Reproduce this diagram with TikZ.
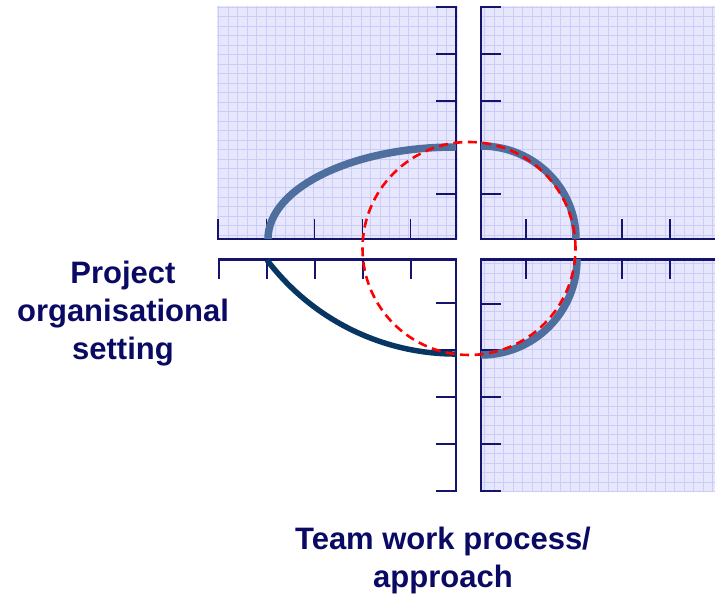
\documentclass[tikz,border=0pt]{standalone}
\usepackage{fontspec}
\setmainfont{Liberation Sans}
\definecolor{navy}{RGB}{20,20,108}
\definecolor{txt}{RGB}{10,10,100}
\definecolor{gridbg}{RGB}{230,230,253}
\definecolor{gridln}{RGB}{204,204,246}
\definecolor{curveblue}{RGB}{78,110,158}
\definecolor{darkcurve}{RGB}{8,54,98}
\begin{document}
\begin{tikzpicture}[x=1pt,y=1pt,
  gridlines/.style={draw=gridln,line width=0.6pt},
  axis/.style={draw=navy,line width=2.2pt},
  tick/.style={draw=navy,line width=1.9pt},
  bluecurve/.style={draw=curveblue,line width=7.5pt},
  navycurve/.style={draw=darkcurve,line width=5.5pt},
  reddash/.style={draw=red,line width=2.6pt,dash pattern=on 9pt off 5.5pt},
  lbl/.style={text=txt,font=\fontsize{31}{38}\selectfont\bfseries,anchor=base,inner sep=0pt}]
\useasboundingbox (0,0) rectangle (715,596);
% graph paper
\fill[gridbg] (217,357) rectangle (458,590);
\fill[gridbg] (480,357) rectangle (715,590);
\fill[gridbg] (480,104) rectangle (715,337);
\begin{scope}
\clip (217,357) rectangle (458,590);
\draw[gridlines,step=9.5] (217,357) grid (458,590);
\end{scope}
\begin{scope}
\clip (480,357) rectangle (715,590);
\draw[gridlines,step=9.5] (480,357) grid (715,590);
\end{scope}
\begin{scope}
\clip (480,104) rectangle (715,337);
\draw[gridlines,step=9.5] (480,104) grid (715,337);
\end{scope}
% top-left axes
\draw[axis] (436,589) -- (456,589) -- (456,357) -- (218,357) -- (218,377);
\foreach \y in {542,495,449,402} \draw[tick] (436,\y) -- (456,\y);
\foreach \x in {266.5,314.5,362.5,410.5} \draw[tick] (\x,357) -- (\x,377);
% top-right axes
\draw[axis] (501,589) -- (481,589) -- (481,357) -- (715,357);
\foreach \y in {542,495,449,402} \draw[tick] (481,\y) -- (501,\y);
\foreach \x in {526,574,622,670} \draw[tick] (\x,357) -- (\x,377);
% bottom-right axes
\draw[axis] (715,336.5) -- (481,336.5) -- (481,105) -- (501,105);
\foreach \y in {292,246,199,152} \draw[tick] (481,\y) -- (501,\y);
\foreach \x in {526,574,622,670} \draw[tick] (\x,336.5) -- (\x,317);
% bottom-left axes
\draw[axis] (219,317) -- (219,336.5) -- (456,336.5) -- (456,105) -- (436,105);
\foreach \y in {293,246,199,152} \draw[tick] (436,\y) -- (456,\y);
\foreach \x in {267,315,363,411} \draw[tick] (\x,336.5) -- (\x,317);
% curves
\draw[bluecurve] (268,357) arc[start angle=180,end angle=90,x radius=188,y radius=92];
\draw[bluecurve] (481,450) arc[start angle=90,end angle=0,x radius=95,y radius=93];
\draw[bluecurve] (577,337) arc[start angle=0,end angle=-90,x radius=96,y radius=96];
\draw[navycurve] (267,336) arc[start angle=217.1,end angle=270,radius=237];
\draw[reddash] (469,347.5) circle[radius=106.5];
% labels
\node[lbl] (p1) at (123,312) {Project};
\node[lbl] (p2) at (123,274) {organisational};
\node[lbl] (p3) at (123,236) {setting};
\node[lbl] (t1) at (443,46) {Team work process/};
\node[lbl] (t2) at (443,8) {approach};
\end{tikzpicture}
\end{document}
